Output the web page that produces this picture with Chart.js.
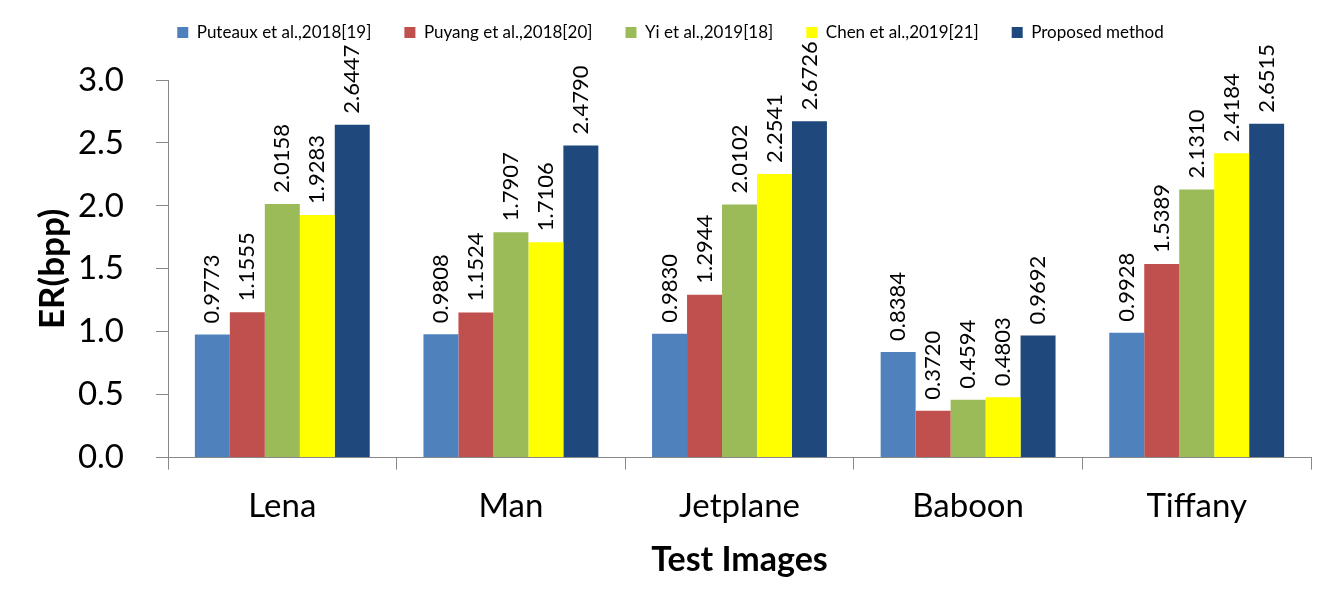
<!DOCTYPE html>
<html>
<head>
<meta charset="utf-8">
<script src="https://cdn.jsdelivr.net/npm/chart.js@4"></script>
<style>
  html, body { margin: 0; padding: 0; background: #fff; }
  #wrap { width: 1335px; height: 605px; }
</style>
</head>
<body>
<div id="wrap"><canvas id="erChart" width="1335" height="605"></canvas></div>
<script>
const categories = ['Lena', 'Man', 'Jetplane', 'Baboon', 'Tiffany'];
const seriesNames = ['Puteaux et al.,2018[19]', 'Puyang et al.,2018[20]', 'Yi et al.,2019[18]', 'Chen et al.,2019[21]', 'Proposed method'];
const puteaux = [0.9773, 0.9808, 0.9830, 0.8384, 0.9928];
const puyang = [1.1555, 1.1524, 1.2944, 0.3720, 1.5389];
const yi = [2.0158, 1.7907, 2.0102, 0.4594, 2.1310];
const chen = [1.9283, 1.7106, 2.2541, 0.4803, 2.4184];
const proposed = [2.6447, 2.4790, 2.6726, 0.9692, 2.6515];
const yTicks = [0, 0.5, 1.0, 1.5, 2.0, 2.5, 3.0];

const colors = ['#4F81BD', '#C0504D', '#9BBB59', '#FFFF00', '#1F497D'];
const allSeries = [puteaux, puyang, yi, chen, proposed];

// rotated value labels above each bar
const barLabels = {
    id: 'barLabels',
    afterDatasetsDraw(chart) {
        const ctx = chart.ctx;
        ctx.save();
        ctx.font = '22px Lato';
        ctx.fillStyle = '#000';
        ctx.textAlign = 'left';
        ctx.textBaseline = 'middle';
        chart.data.datasets.forEach((ds, i) => {
            chart.getDatasetMeta(i).data.forEach((bar, j) => {
                ctx.save();
                ctx.translate(bar.x, bar.y - 11);
                ctx.rotate(-Math.PI / 2);
                ctx.fillText(ds.data[j].toFixed(4), 0, 0);
                ctx.restore();
            });
        });
        ctx.restore();
    }
};

// extra room between legend and plot, legend nudged right
const legendGap = {
    id: 'legendGap',
    beforeInit(chart) {
        const origFit = chart.legend.fit;
        chart.legend.fit = function () {
            origFit.bind(chart.legend)();
            this.height += 29;
        };
    },
    afterLayout(chart) {
        chart.legend.left += 10;
        chart.legend.right += 10;
    }
};

const config = {
    type: 'bar',
    data: {
        labels: categories,
        datasets: allSeries.map((vals, i) => ({
            label: seriesNames[i],
            data: vals,
            backgroundColor: colors[i],
            borderWidth: 0,
            barPercentage: 1.0,
            categoryPercentage: 0.765
        }))
    },
    options: {
        responsive: false,
        animation: false,
        layout: { padding: { left: 10, right: 24, top: -9, bottom: 20 } },
        plugins: {
            legend: {
                position: 'top',
                labels: {
                    boxWidth: 11,
                    boxHeight: 11,
                    padding: 33,
                    color: '#000',
                    font: { family: 'Lato', size: 17 }
                }
            },
            tooltip: { enabled: false }
        },
        scales: {
            y: {
                min: 0,
                max: 3.0,
                afterBuildTicks: axis => { axis.ticks = yTicks.map(v => ({ value: v })); },
                afterFit: axis => { axis.width = 158; },
                ticks: {
                    color: '#000',
                    padding: 32,
                    font: { family: 'Lato', size: 33 },
                    callback: v => Number(v).toFixed(1)
                },
                grid: { drawOnChartArea: false, tickLength: 12, color: '#888' },
                border: { color: '#888', width: 1 },
                title: {
                    display: true,
                    text: 'ER(bpp)',
                    color: '#000',
                    font: { family: 'Lato', size: 35, weight: 'bold' },
                    padding: { top: 22, bottom: 0 }
                }
            },
            x: {
                ticks: {
                    color: '#000',
                    padding: 17,
                    font: { family: 'Lato', size: 33 }
                },
                grid: { drawOnChartArea: false, tickLength: 12, color: '#888' },
                border: { color: '#888', width: 1 },
                title: {
                    display: true,
                    text: 'Test Images',
                    color: '#000',
                    font: { family: 'Lato', size: 34, weight: 'bold' },
                    padding: { top: -4, bottom: 5 }
                }
            }
        }
    },
    plugins: [barLabels, legendGap]
};

new Chart(document.getElementById('erChart'), config);
</script>
</body>
</html>
